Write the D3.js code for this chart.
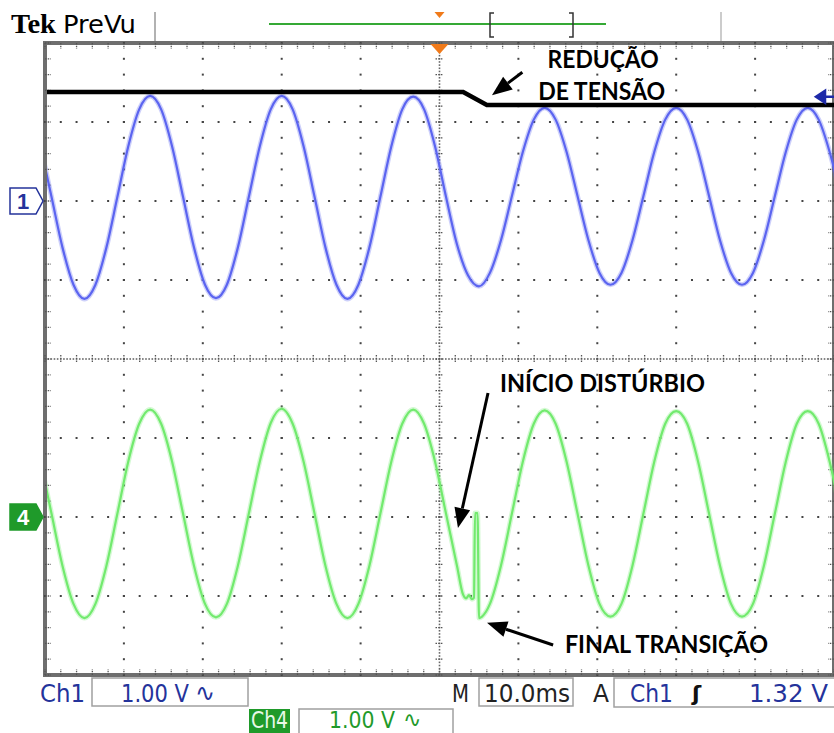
<!DOCTYPE html>
<html>
<head>
<meta charset="utf-8">
<script src="https://cdn.jsdelivr.net/npm/d3@7"></script>
<style>
body { margin: 0; background: #fff; }
svg { display: block; }
</style>
</head>
<body>
<div id="scope"></div>
<script>
var width = 834,
  height = 733;

// sample instants in ms from the trigger point (one every 1/12 of a 60 Hz cycle)
var timeMs = [-50.56, -49.17, -47.78, -46.39, -45.00, -43.61, -42.22, -40.83, -39.45, -38.06, -36.67, -35.28,
  -33.89, -32.50, -31.11, -29.72, -28.33, -26.95, -25.56, -24.17, -22.78, -21.39, -20.00, -18.61,
  -17.22, -15.83, -14.45, -13.06, -11.67, -10.28, -8.89, -7.50, -6.11, -4.72, -3.33, -1.95,
  -0.56, 0.83, 2.22, 3.61, 5.00, 6.39, 7.78, 9.17, 10.56, 11.95, 13.33, 14.72,
  16.11, 17.50, 18.89, 20.28, 21.67, 23.06, 24.45, 25.84, 27.22, 28.61, 30.00, 31.39,
  32.78, 34.17, 35.56, 36.95, 38.34, 39.73, 41.11, 42.50, 43.89, 45.28, 46.67, 48.06,
  49.45, 50.84];

// Ch1 (blue), volts
var ch1Volts = [0.69, 0.05, -0.59, -1.06, -1.24, -1.06, -0.59, 0.05, 0.69, 1.16, 1.33, 1.16,
  0.69, 0.05, -0.59, -1.06, -1.23, -1.06, -0.59, 0.05, 0.69, 1.16, 1.33, 1.16,
  0.69, 0.05, -0.59, -1.06, -1.24, -1.06, -0.59, 0.05, 0.69, 1.16, 1.32, 1.16,
  0.69, 0.05, -0.55, -0.94, -1.08, -0.91, -0.50, 0.06, 0.62, 1.03, 1.18, 1.03,
  0.62, 0.06, -0.50, -0.91, -1.06, -0.91, -0.50, 0.06, 0.62, 1.03, 1.18, 1.03,
  0.62, 0.06, -0.50, -0.91, -1.06, -0.91, -0.50, 0.06, 0.62, 1.03, 1.18, 1.03,
  0.62, 0.06];

// Ch4 (green), volts; the two nulls are covered by the transient samples below
var ch4Volts = [0.70, 0.04, -0.62, -1.10, -1.28, -1.10, -0.62, 0.04, 0.70, 1.18, 1.36, 1.18,
  0.70, 0.04, -0.62, -1.10, -1.27, -1.10, -0.62, 0.04, 0.70, 1.19, 1.37, 1.18,
  0.70, 0.04, -0.62, -1.10, -1.28, -1.10, -0.62, 0.04, 0.70, 1.18, 1.36, 1.18,
  0.70, 0.04, -0.62, null, null, -1.10, -0.62, 0.04, 0.70, 1.18, 1.35, 1.18,
  0.70, 0.04, -0.62, -1.10, -1.26, -1.10, -0.62, 0.04, 0.70, 1.18, 1.34, 1.18,
  0.70, 0.04, -0.62, -1.10, -1.26, -1.10, -0.62, 0.04, 0.70, 1.18, 1.34, 1.18,
  0.70, 0.04];

var ch4Transient = [[2.98, -0.98], [3.36, -1.03], [3.74, -0.99], [4.12, -1.04], [4.37, -1.02],
  [4.50, 0.05], [4.82, 0.05], [5.01, -1.28], [5.39, -1.26]];

// black reference line drawn over ch1 (ms, V)
var refLine = [[-50, 1.38], [3.0, 1.38], [6.0, 1.215], [50, 1.215]];

var trigLevel = 1.32;
var voltsPerDiv = ["1.00 V", "1.00 V"];
var timebase = "10.0ms";

var xTicks = d3.range(-50, 50.01, 10),   // ms, one per division
  yTicks = d3.range(-4, 4.01, 1);        // divisions

var x = d3.scaleLinear().domain([-50, 50]).range([45, 834]);
var yDiv = d3.scaleLinear().domain([-4, 4]).range([675, 43]);
var ch1Y = function(v) { return yDiv(v + 2) },
  ch4Y = function(v) { return yDiv(v - 2) };

var svg = d3.select("#scope")
  .append("svg")
  .attr("width", width)
  .attr("height", height);

var narrow = "'Liberation Sans Narrow', 'DejaVu Sans Condensed', 'Liberation Sans', sans-serif";
var navy = "#24339b", dotCol = "#444";

// ---------- header ----------
svg.append("text").attr("x", 11).attr("y", 33)
  .style("font-family", "'Liberation Serif', serif").style("font-weight", "bold").style("font-size", "28px")
  .attr("textLength", 45).attr("lengthAdjust", "spacingAndGlyphs")
  .text("Tek");
svg.append("text").attr("x", 63).attr("y", 33)
  .style("font-family", narrow).style("font-size", "25px")
  .attr("textLength", 73).attr("lengthAdjust", "spacingAndGlyphs")
  .text("PreVu");
svg.append("line").attr("x1", 155).attr("x2", 155).attr("y1", 12).attr("y2", 41).attr("stroke", "#999").attr("stroke-width", 1.5);
svg.append("line").attr("x1", 721).attr("x2", 721).attr("y1", 12).attr("y2", 41).attr("stroke", "#bbb").attr("stroke-width", 1.5);
svg.append("line").attr("x1", 269).attr("x2", 606).attr("y1", 24).attr("y2", 24).attr("stroke", "#35a935").attr("stroke-width", 2);
[[490, 1], [573, -1]].forEach(function(b) {
  svg.append("path")
    .attr("d", "M" + (b[0] + 4 * b[1]) + ",13 H" + b[0] + " V37 H" + (b[0] + 4 * b[1]))
    .attr("fill", "none").attr("stroke", "#333").attr("stroke-width", 1.5);
});
svg.append("path").attr("d", "M" + (x(0) - 5) + ",12 L" + (x(0) + 5) + ",12 L" + x(0) + ",18 Z").attr("fill", "#f07a1a");

// ---------- graticule ----------
var grid = svg.append("g");

grid.append("rect")
  .attr("x", x(-50)).attr("y", yDiv(4)).attr("width", x(50) - x(-50)).attr("height", yDiv(-4) - yDiv(4))
  .attr("fill", "#fff").attr("stroke", "#6e6e6e").attr("stroke-width", 4);

// dotted division lines
var vDots = [];
xTicks.filter(function(t) { return t > -50 && t < 50 && t !== 0 }).forEach(function(t) {
  d3.range(-4, 4.01, 0.2).forEach(function(d) { vDots.push([x(t), yDiv(d)]) });
});
yTicks.filter(function(d) { return d > -4 && d < 4 && d !== 0 }).forEach(function(d) {
  d3.range(-50, 50.01, 2).forEach(function(t) { vDots.push([x(t), yDiv(d)]) });
});
grid.selectAll(".dot").data(vDots).enter().append("rect")
  .attr("class", "dot")
  .attr("x", function(d) { return d[0] - 1 }).attr("y", function(d) { return d[1] - 1 })
  .attr("width", 2).attr("height", 2).attr("fill", dotCol);

// centre lines: dense dots + minor ticks
var cDots = [];
d3.range(-50, 50.01, 0.4).forEach(function(t) { cDots.push([x(t), yDiv(0)]) });
d3.range(-4, 4.01, 0.04).forEach(function(d) { cDots.push([x(0), yDiv(d)]) });
grid.selectAll(".cdot").data(cDots).enter().append("rect")
  .attr("class", "cdot")
  .attr("x", function(d) { return d[0] - 0.8 }).attr("y", function(d) { return d[1] - 0.8 })
  .attr("width", 1.6).attr("height", 1.6).attr("fill", "#666");

grid.selectAll(".hTick").data(d3.range(-50, 50.01, 2)).enter().append("line")
  .attr("class", "hTick")
  .attr("x1", function(t) { return x(t) }).attr("x2", function(t) { return x(t) })
  .attr("y1", yDiv(0) - 4).attr("y2", yDiv(0) + 4)
  .attr("stroke", "#555").attr("stroke-width", 1.3).attr("stroke-dasharray", "1.5,1.2");
grid.selectAll(".vTick").data(d3.range(-4, 4.01, 0.2)).enter().append("line")
  .attr("class", "vTick")
  .attr("y1", function(d) { return yDiv(d) }).attr("y2", function(d) { return yDiv(d) })
  .attr("x1", x(0) - 4).attr("x2", x(0) + 4)
  .attr("stroke", "#555").attr("stroke-width", 1.3).attr("stroke-dasharray", "1.5,1.2");

// border ticks
grid.selectAll(".bx").data(d3.range(-50, 50.01, 2)).enter().append("path")
  .attr("class", "bx")
  .attr("d", function(t) { return "M" + x(t) + "," + yDiv(4) + " v6 M" + x(t) + "," + yDiv(-4) + " v-6" })
  .attr("stroke", "#555").attr("stroke-width", 1.3).attr("stroke-dasharray", "1.5,1.2");
grid.selectAll(".by").data(d3.range(-4, 4.01, 0.2)).enter().append("path")
  .attr("class", "by")
  .attr("d", function(d) { return "M" + x(-50) + "," + yDiv(d) + " h6 M" + x(50) + "," + yDiv(d) + " h-6" })
  .attr("stroke", "#555").attr("stroke-width", 1.3).attr("stroke-dasharray", "1.5,1.2");

// ---------- traces ----------
svg.append("clipPath").attr("id", "clip").append("rect")
  .attr("x", x(-50) + 2).attr("y", yDiv(4) + 2).attr("width", x(50) - x(-50) - 2).attr("height", yDiv(-4) - yDiv(4) - 4);

var ch1Pts = timeMs.map(function(t, i) { return [t, ch1Volts[i]] });
var ch4Pts = timeMs.map(function(t, i) { return [t, ch4Volts[i]] })
  .filter(function(d) { return d[1] !== null })
  .concat(ch4Transient)
  .sort(function(a, b) { return a[0] - b[0] });

var traces = svg.append("g").attr("clip-path", "url(#clip)");

function drawTrace(pts, yFn, col) {
  var line = d3.line()
    .x(function(d) { return x(d[0]) })
    .y(function(d) { return yFn(d[1]) })
    .curve(d3.curveMonotoneX);
  traces.append("path").datum(pts).attr("d", line)
    .attr("fill", "none").attr("stroke", col).attr("stroke-width", 5).attr("stroke-opacity", 0.3);
  traces.append("path").datum(pts).attr("d", line)
    .attr("fill", "none").attr("stroke", col).attr("stroke-width", 2.2).attr("stroke-linejoin", "round");
}
drawTrace(ch1Pts, ch1Y, "#5b64f0");
drawTrace(ch4Pts, ch4Y, "#72ea6e");

traces.append("path").datum(refLine)
  .attr("d", d3.line().x(function(d) { return x(d[0]) }).y(function(d) { return ch1Y(d[1]) }))
  .attr("fill", "none").attr("stroke", "#000").attr("stroke-width", 4.5);

// trigger point and trigger level markers
svg.append("path").attr("d", "M" + (x(0) - 9) + "," + (yDiv(4) + 1) + " L" + (x(0) + 9) + "," + (yDiv(4) + 1) + " L" + x(0) + "," + (yDiv(4) + 11) + " Z")
  .attr("fill", "#f07a1a");
svg.append("path")
  .attr("d", "M" + (x(50) - 18) + "," + ch1Y(trigLevel) + " l9,-6 v12 Z M" + (x(50) - 10) + "," + ch1Y(trigLevel) + " h10")
  .attr("fill", "#1e2aa8").attr("stroke", "#1e2aa8").attr("stroke-width", 2.5);

// channel ground markers
function chMarker(yPos, label, fill, stroke, txt) {
  svg.append("path")
    .attr("d", "M10," + (yPos - 13) + " H36 L43," + yPos + " L36," + (yPos + 13) + " H10 Z")
    .attr("fill", fill).attr("stroke", stroke).attr("stroke-width", 1.5);
  svg.append("text").attr("x", 23).attr("y", yPos + 8).attr("text-anchor", "middle")
    .style("font-family", "'Liberation Sans', sans-serif").style("font-weight", "bold").style("font-size", "22px")
    .attr("fill", txt).text(label);
}
chMarker(ch1Y(0), "1", "#fff", navy, navy);
chMarker(ch4Y(0), "4", "#1f9a2a", "#1f9a2a", "#fff");

// ---------- annotations ----------
var ann = svg.append("g");
function arrow(x1, y1, x2, y2) {
  var a = Math.atan2(y2 - y1, x2 - x1), L = 20, W = 8;
  var bx = x2 - L * Math.cos(a), by = y2 - L * Math.sin(a);
  ann.append("line").attr("x1", x1).attr("y1", y1).attr("x2", bx).attr("y2", by)
    .attr("stroke", "#000").attr("stroke-width", 3);
  ann.append("path")
    .attr("d", "M" + x2 + "," + y2 + " L" + (bx + W * Math.sin(a)) + "," + (by - W * Math.cos(a)) +
      " L" + (bx - W * Math.sin(a)) + "," + (by + W * Math.cos(a)) + " Z")
    .attr("fill", "#000");
}
function label(xp, yp, str, len) {
  ann.append("text").attr("x", xp).attr("y", yp)
    .style("font-family", "Lato, 'Open Sans', sans-serif").style("font-weight", "bold").style("font-size", "24px")
    .attr("textLength", len).attr("lengthAdjust", "spacingAndGlyphs")
    .text(str);
}
arrow(x(10.5), ch1Y(1.63), x(6.65), ch1Y(1.34));
label(x(13.7), ch1Y(1.68), "REDUÇÃO", 111);
label(x(12.5), ch1Y(1.28), "DE TENSÃO", 127);
arrow(x(6.15), ch4Y(1.57), x(2.34), ch4Y(-0.14));
label(x(7.67), ch4Y(1.58), "INÍCIO DISTÚRBIO", 205);
arrow(x(14.4), ch4Y(-1.62), x(6.02), ch4Y(-1.34));
label(x(15.9), ch4Y(-1.72), "FINAL TRANSIÇÃO", 203);

// ---------- status bar ----------
var bar = svg.append("g").style("font-family", narrow).style("font-size", "25px");
function box(x0, y0, w, h) {
  bar.append("rect").attr("x", x0).attr("y", y0).attr("width", w).attr("height", h)
    .attr("fill", "none").attr("stroke", "#a0a0a0").attr("stroke-width", 1.5);
}
function txt(x0, y0, s, col, len) {
  var t = bar.append("text").attr("x", x0).attr("y", y0).attr("fill", col).text(s);
  if (len) t.attr("textLength", len).attr("lengthAdjust", "spacingAndGlyphs");
  return t;
}
box(92, 678, 156, 28);
txt(40, 702, "Ch1", navy, 45);
txt(121, 702, voltsPerDiv[0], navy, 68);
txt(195, 701, "∿", navy).style("font-family", "'DejaVu Sans', sans-serif").style("font-size", "24px");
txt(452, 702, "M", "#222", 17);
box(479, 678, 94, 28);
txt(484, 702, timebase, "#222", 86);
txt(593, 702, "A", "#222", 16);
box(614, 678, 230, 29);
txt(630, 702, "Ch1", navy, 43);
txt(692, 701, "ʃ", "#111").style("font-weight", "bold").style("font-family", "'DejaVu Sans', sans-serif").style("font-size", "22px");
txt(749, 702, trigLevel.toFixed(2) + " V", navy, 79);

bar.append("rect").attr("x", 249).attr("y", 709).attr("width", 41).attr("height", 24).attr("fill", "#1f9a2a");
txt(251, 728, "Ch4", "#e8f8e8", 37).style("font-size", "23px");
box(299, 709, 154, 30);
txt(329, 728, voltsPerDiv[1], "#1f9a2a", 66).style("font-size", "23px");
txt(403, 727, "∿", "#1f9a2a").style("font-family", "'DejaVu Sans', sans-serif").style("font-size", "22px");
</script>
</body>
</html>
